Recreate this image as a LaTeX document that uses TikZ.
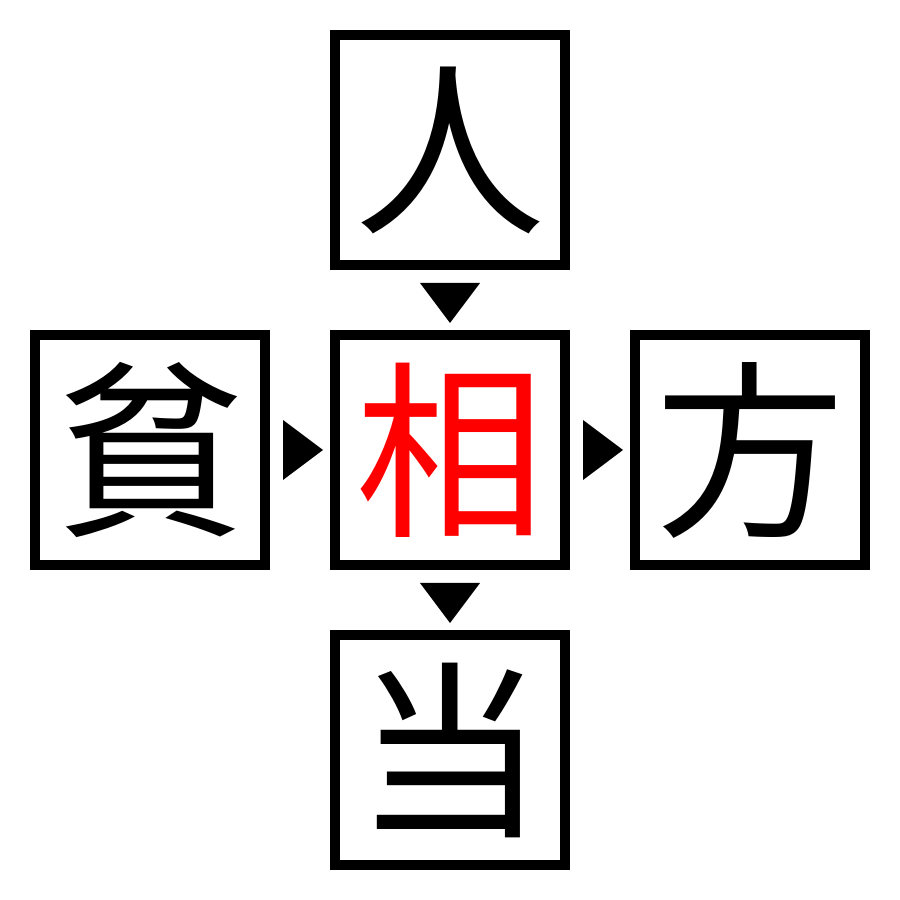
\documentclass[tikz,border=0pt]{standalone}
\usepackage{fontspec}
\newfontfamily\cjk{Noto Sans CJK JP}
\usetikzlibrary{calc}
\tikzset{
  kanji/.style={draw, line width=1mm, minimum size=2.3cm, inner sep=0pt,
    font=\cjk\fontsize{54pt}{54pt}\selectfont},
  mark/.style={fill=black}
}
\begin{document}
\begin{tikzpicture}
\useasboundingbox (0,0) rectangle (9,9);
\node[kanji] (top) at (4.5,7.5) {人};
\node[kanji, text=red] (mid) at (4.5,4.5) {相};
\node[kanji] (lft) at (1.5,4.5) {貧};
\node[kanji] (rgt) at (7.5,4.5) {方};
\node[kanji] (bot) at (4.5,1.5) {当};
\foreach \a/\b in {top/mid, mid/bot}
{
    \fill ($(\a.south)+(-0.3,-0.13)$)--($(\a.south)+(0.3,-0.13)$)--($(\b.north)+(0,0.07)$)--cycle;
}
\foreach \a/\b in {lft/mid, mid/rgt}
{
    \fill ($(\a.east)+(0.13,0.3)$)--($(\a.east)+(0.13,-0.3)$)--($(\b.west)+(-0.07,0)$)--cycle;
}
\end{tikzpicture}
\end{document}
